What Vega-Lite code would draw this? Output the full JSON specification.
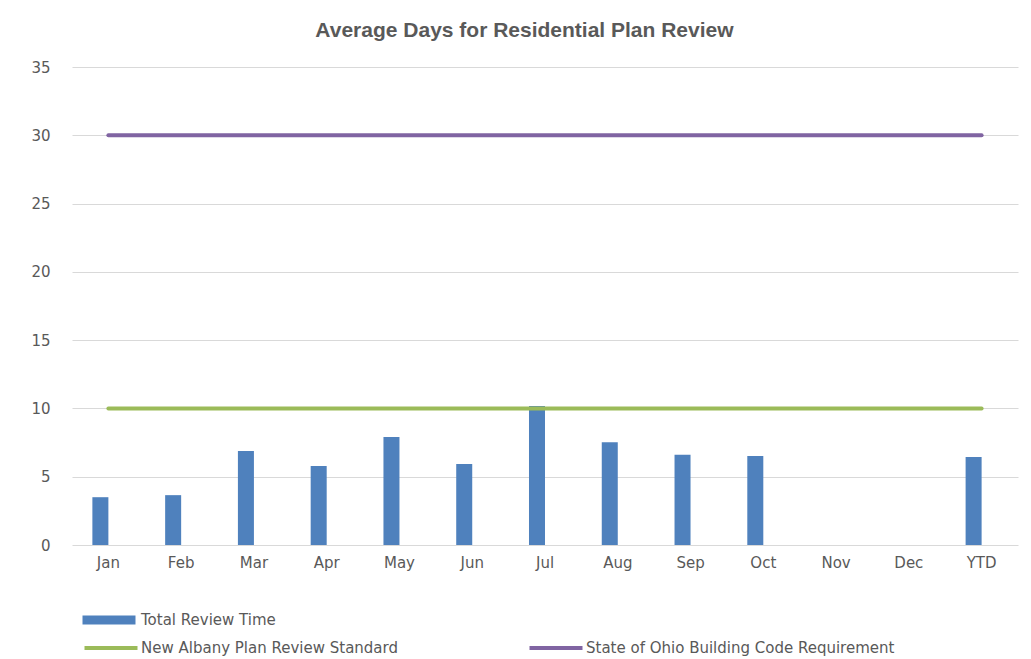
{
  "$schema": "https://vega.github.io/schema/vega-lite/v6.json",
  "width": 946,
  "height": 478,
  "padding": {"left": 30, "top": 20, "right": 10, "bottom": 5},
  "background": "white",
  "title": {
    "text": "Average Days for Residential Plan Review",
    "font": "Liberation Sans",
    "fontSize": 21,
    "fontWeight": "bold",
    "color": "#595959",
    "anchor": "middle",
    "frame": "bounds",
    "offset": 19
  },
  "datasets": {
    "reviews": [
      {"month": "Jan", "days": 3.5},
      {"month": "Feb", "days": 3.65},
      {"month": "Mar", "days": 6.88},
      {"month": "Apr", "days": 5.78},
      {"month": "May", "days": 7.9},
      {"month": "Jun", "days": 5.93},
      {"month": "Jul", "days": 10.18},
      {"month": "Aug", "days": 7.52},
      {"month": "Sep", "days": 6.6},
      {"month": "Oct", "days": 6.52},
      {"month": "Nov", "days": null},
      {"month": "Dec", "days": null},
      {"month": "YTD", "days": 6.45}
    ],
    "standards": [
      {"month": "Jan", "series": "New Albany Plan Review Standard", "days": 10},
      {"month": "Feb", "series": "New Albany Plan Review Standard", "days": 10},
      {"month": "Mar", "series": "New Albany Plan Review Standard", "days": 10},
      {"month": "Apr", "series": "New Albany Plan Review Standard", "days": 10},
      {"month": "May", "series": "New Albany Plan Review Standard", "days": 10},
      {"month": "Jun", "series": "New Albany Plan Review Standard", "days": 10},
      {"month": "Jul", "series": "New Albany Plan Review Standard", "days": 10},
      {"month": "Aug", "series": "New Albany Plan Review Standard", "days": 10},
      {"month": "Sep", "series": "New Albany Plan Review Standard", "days": 10},
      {"month": "Oct", "series": "New Albany Plan Review Standard", "days": 10},
      {"month": "Nov", "series": "New Albany Plan Review Standard", "days": 10},
      {"month": "Dec", "series": "New Albany Plan Review Standard", "days": 10},
      {"month": "YTD", "series": "New Albany Plan Review Standard", "days": 10},
      {"month": "Jan", "series": "State of Ohio Building Code Requirement", "days": 30},
      {"month": "Feb", "series": "State of Ohio Building Code Requirement", "days": 30},
      {"month": "Mar", "series": "State of Ohio Building Code Requirement", "days": 30},
      {"month": "Apr", "series": "State of Ohio Building Code Requirement", "days": 30},
      {"month": "May", "series": "State of Ohio Building Code Requirement", "days": 30},
      {"month": "Jun", "series": "State of Ohio Building Code Requirement", "days": 30},
      {"month": "Jul", "series": "State of Ohio Building Code Requirement", "days": 30},
      {"month": "Aug", "series": "State of Ohio Building Code Requirement", "days": 30},
      {"month": "Sep", "series": "State of Ohio Building Code Requirement", "days": 30},
      {"month": "Oct", "series": "State of Ohio Building Code Requirement", "days": 30},
      {"month": "Nov", "series": "State of Ohio Building Code Requirement", "days": 30},
      {"month": "Dec", "series": "State of Ohio Building Code Requirement", "days": 30},
      {"month": "YTD", "series": "State of Ohio Building Code Requirement", "days": 30}
    ]
  },
  "config": {
    "view": {"stroke": null},
    "font": "DejaVu Sans",
    "axis": {
      "labelFont": "DejaVu Sans",
      "labelFontSize": 15,
      "labelColor": "#595959",
      "domain": false,
      "ticks": false,
      "title": null
    },
    "legend": {
      "labelFont": "DejaVu Sans",
      "labelFontSize": 15,
      "labelColor": "#595959",
      "padding": 0,
      "title": null
    }
  },
  "layer": [
    {
      "data": {"name": "reviews"},
      "mark": {"type": "bar", "color": "#4F81BD"},
      "encoding": {
        "x": {
          "field": "month",
          "type": "nominal",
          "sort": ["Jan","Feb","Mar","Apr","May","Jun","Jul","Aug","Sep","Oct","Nov","Dec","YTD"],
          "scale": {"paddingInner": 0.56, "paddingOuter": 0.28},
          "axis": {"labelAngle": 0, "grid": false, "labelPadding": 10}
        },
        "xOffset": {
          "datum": "Total Review Time",
          "scale": {"domain": ["Total Review Time", "spare"], "paddingInner": 0, "paddingOuter": 0}
        },
        "y": {
          "field": "days",
          "type": "quantitative",
          "scale": {"domain": [0, 35]},
          "axis": {"values": [0,5,10,15,20,25,30,35], "grid": true, "gridColor": "#d9d9d9", "labelPadding": 22}
        },
        "fill": {
          "datum": "Total Review Time",
          "scale": {"domain": ["Total Review Time"], "range": ["#4F81BD"]},
          "legend": {
            "orient": "none",
            "legendX": 28,
            "legendY": 544,
            "symbolType": "M-3,-0.5H3V0.5H-3Z",
            "symbolSize": 312,
            "symbolStrokeWidth": 0,
            "symbolOpacity": 1,
            "labelOffset": 23
          }
        }
      }
    },
    {
      "data": {"name": "standards"},
      "mark": {"type": "line", "strokeWidth": 4, "strokeCap": "round"},
      "encoding": {
        "x": {
          "field": "month",
          "type": "nominal",
          "sort": ["Jan","Feb","Mar","Apr","May","Jun","Jul","Aug","Sep","Oct","Nov","Dec","YTD"]
        },
        "y": {"field": "days", "type": "quantitative"},
        "stroke": {
          "field": "series",
          "type": "nominal",
          "scale": {
            "domain": ["New Albany Plan Review Standard", "State of Ohio Building Code Requirement"],
            "range": ["#9BBB59", "#8064A2"]
          },
          "legend": {
            "orient": "none",
            "legendX": 28,
            "legendY": 570,
            "direction": "horizontal",
            "columns": 2,
            "columnPadding": 123,
            "symbolType": "M-3,0H3",
            "symbolSize": 312,
            "symbolStrokeWidth": 4,
            "labelOffset": 19,
            "labelLimit": 500
          }
        }
      }
    }
  ]
}
